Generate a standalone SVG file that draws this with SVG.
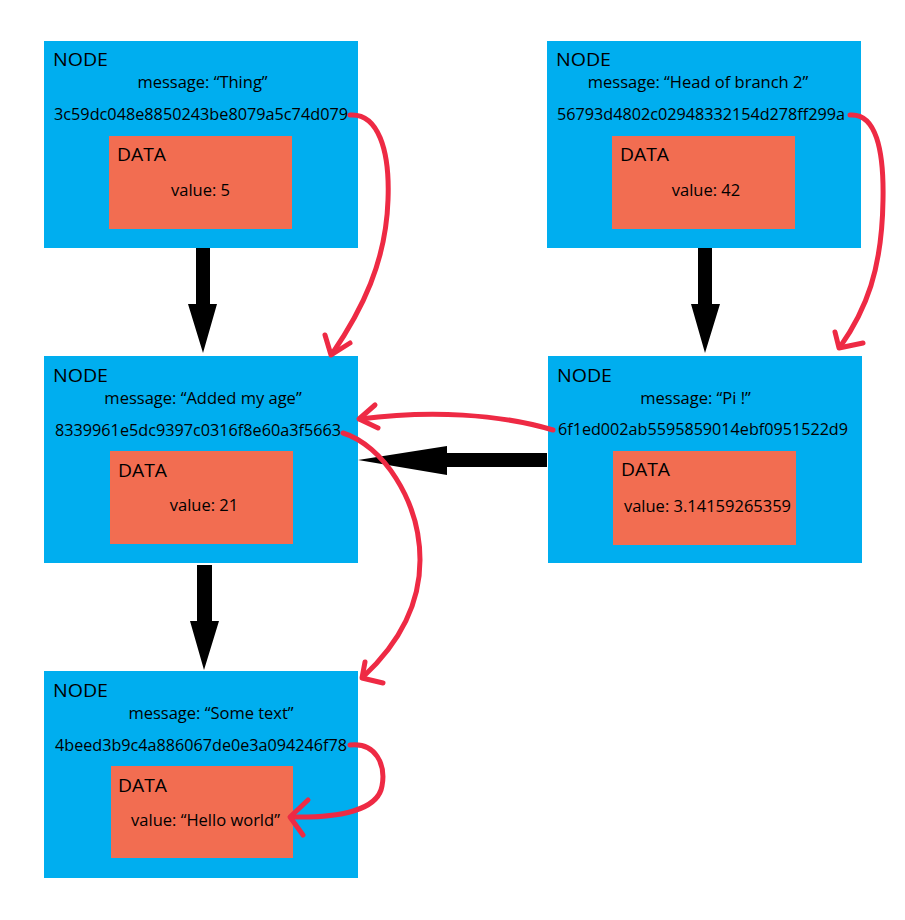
<svg xmlns="http://www.w3.org/2000/svg" width="905" height="920" viewBox="0 0 905 920">
<style>
.node{fill:#00AEEF}
.data{fill:#F26D51}
text{font-family:"Open Sans","Noto Sans","Liberation Sans",sans-serif;fill:#000}
.t{font-size:18px}
.m{font-size:16.5px;text-anchor:middle}
.h{font-size:17px}
.red{fill:none;stroke:#EE2A44;stroke-width:5;stroke-linecap:round;stroke-linejoin:round}
.blk{fill:#000}
</style>
<rect width="905" height="920" fill="#fff"/>
<g id="node1" transform="translate(44,41)">
<rect class="node" width="314" height="207"/>
<text class="t" x="9" y="25" textLength="55" lengthAdjust="spacingAndGlyphs">NODE</text>
<text class="m" x="158.5" y="47">message: “Thing”</text>
<text class="h" x="10" y="79" textLength="294" lengthAdjust="spacingAndGlyphs">3c59dc048e8850243be8079a5c74d079</text>
<rect class="data" x="65" y="95" width="183" height="93"/>
<text class="t" x="73" y="120" textLength="49" lengthAdjust="spacingAndGlyphs">DATA</text>
<text class="m" x="156.5" y="155">value: 5</text>
</g>
<g id="node2" transform="translate(44,356)">
<rect class="node" width="314" height="207"/>
<text class="t" x="9" y="26" textLength="55" lengthAdjust="spacingAndGlyphs">NODE</text>
<text class="m" x="159" y="48">message: “Added my age”</text>
<text class="h" x="11" y="80" textLength="286" lengthAdjust="spacingAndGlyphs">8339961e5dc9397c0316f8e60a3f5663</text>
<rect class="data" x="66" y="95" width="183" height="93"/>
<text class="t" x="74" y="121" textLength="49" lengthAdjust="spacingAndGlyphs">DATA</text>
<text class="m" x="160" y="155">value: 21</text>
</g>
<g id="node3" transform="translate(44,671)">
<rect class="node" width="314" height="207"/>
<text class="t" x="9" y="26" textLength="55" lengthAdjust="spacingAndGlyphs">NODE</text>
<text class="m" x="167" y="48">message: “Some text”</text>
<text class="h" x="11" y="80" textLength="292" lengthAdjust="spacingAndGlyphs">4beed3b9c4a886067de0e3a094246f78</text>
<rect class="data" x="67" y="95" width="182" height="92"/>
<text class="t" x="74" y="121" textLength="49" lengthAdjust="spacingAndGlyphs">DATA</text>
<text class="m" x="161.5" y="155">value: “Hello world”</text>
</g>
<g id="node4" transform="translate(547,41)">
<rect class="node" width="314" height="207"/>
<text class="t" x="9" y="25" textLength="55" lengthAdjust="spacingAndGlyphs">NODE</text>
<text class="m" x="151" y="47">message: “Head of branch 2”</text>
<text class="h" x="10" y="79" textLength="288" lengthAdjust="spacingAndGlyphs">56793d4802c02948332154d278ff299a</text>
<rect class="data" x="65" y="95" width="183" height="93"/>
<text class="t" x="73" y="120" textLength="49" lengthAdjust="spacingAndGlyphs">DATA</text>
<text class="m" x="159" y="155">value: 42</text>
</g>
<g id="node5" transform="translate(548,356)">
<rect class="node" width="314" height="207"/>
<text class="t" x="9" y="26" textLength="55" lengthAdjust="spacingAndGlyphs">NODE</text>
<text class="m" x="147.5" y="48">message: “Pi !”</text>
<text class="h" x="10" y="79" textLength="290" lengthAdjust="spacingAndGlyphs">6f1ed002ab5595859014ebf0951522d9</text>
<rect class="data" x="65" y="95" width="183" height="94"/>
<text class="t" x="73" y="120" textLength="49" lengthAdjust="spacingAndGlyphs">DATA</text>
<text class="m" x="159.5" y="156">value: 3.14159265359</text>
</g>
<g id="connectors">
<polygon class="blk" points="196,248 210,248 210,304 217,304 203,353 188,304 196,304"/>
<polygon class="blk" points="698,248 712,248 712,304 720,304 705,353 691,304 698,304"/>
<polygon class="blk" points="197,565 212,565 212,621 219,621 204,670 190,621 197,621"/>
<polygon class="blk" points="547,453 547,467 447,467 447,475 358,460 447,446 447,453"/>
<path class="red" d="M350,115 C378,113 390,150 388,200 C386,262 362,310 332,354"/>
<path class="red" d="M325,335 L331,355 L350,343"/>
<path class="red" d="M850,115 C876,113 884,150 883,200 C882,270 866,310 840,347"/>
<path class="red" d="M835,332 L839,348 L863,343"/>
<path class="red" d="M343,433 C382,445 420,500 420,560 C420,612 392,650 363,677"/>
<path class="red" d="M365,662 L362,678 L383,683"/>
<path class="red" d="M553,430 C500,414 430,410 360,419"/>
<path class="red" d="M375,405 L359,419 L378,428"/>
<path class="red" d="M350,745 C376,742 386,765 382,786 C378,810 340,818 291,817"/>
<path class="red" d="M308,800 L290,817 L303,835"/>
</g>
</svg>
